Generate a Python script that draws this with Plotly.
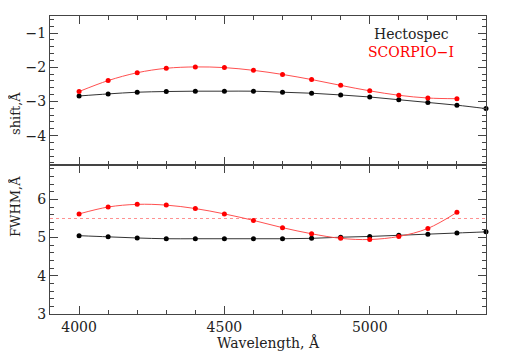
import plotly.graph_objects as go

wavelength = [4000, 4100, 4200, 4300, 4400, 4500, 4600, 4700, 4800, 4900, 5000, 5100, 5200, 5300, 5400]
wl_red = wavelength[:14]

shift_hecto = [-2.84, -2.78, -2.73, -2.71, -2.70, -2.70, -2.70, -2.73, -2.76, -2.81, -2.87, -2.95, -3.03, -3.11, -3.21]
shift_scorpio = [-2.71, -2.39, -2.16, -2.03, -1.99, -2.01, -2.09, -2.21, -2.36, -2.53, -2.69, -2.82, -2.90, -2.92]

fwhm_hecto = [5.05, 5.02, 4.99, 4.97, 4.97, 4.97, 4.97, 4.97, 4.98, 5.01, 5.03, 5.06, 5.09, 5.12, 5.15]
fwhm_scorpio = [5.62, 5.80, 5.87, 5.85, 5.76, 5.62, 5.45, 5.26, 5.10, 4.98, 4.95, 5.03, 5.24, 5.66]
fwhm_ref = 5.5

FONT = "DejaVu Serif"
BLACK_LINE = "#333333"
RED = "#ff0000"
RED_LINE = "#ff5050"
AX = "#444444"

fig = go.Figure()

# Top panel (shift)
fig.add_trace(go.Scatter(x=wavelength, y=shift_hecto, mode="lines+markers", xaxis="x2", yaxis="y2",
                         line=dict(color=BLACK_LINE, width=1, shape="spline"),
                         marker=dict(color="black", size=5), cliponaxis=False, showlegend=False))
fig.add_trace(go.Scatter(x=wl_red, y=shift_scorpio, mode="lines+markers", xaxis="x2", yaxis="y2",
                         line=dict(color=RED_LINE, width=1, shape="spline"),
                         marker=dict(color=RED, size=5), showlegend=False))

# Bottom panel (FWHM)
fig.add_trace(go.Scatter(x=[3900, 5400], y=[fwhm_ref, fwhm_ref], mode="lines", xaxis="x", yaxis="y",
                         line=dict(color="#ff9090", width=1, dash="dot"), showlegend=False))
fig.add_trace(go.Scatter(x=wavelength, y=fwhm_hecto, mode="lines+markers", xaxis="x", yaxis="y",
                         line=dict(color=BLACK_LINE, width=1, shape="spline"),
                         marker=dict(color="black", size=5), cliponaxis=False, showlegend=False))
fig.add_trace(go.Scatter(x=wl_red, y=fwhm_scorpio, mode="lines+markers", xaxis="x", yaxis="y",
                         line=dict(color=RED_LINE, width=1, shape="spline"),
                         marker=dict(color=RED, size=5), showlegend=False))

axis_common = dict(showline=True, linecolor=AX, linewidth=1.2, mirror="allticks",
                   ticks="inside", ticklen=8, tickwidth=1, tickcolor=AX,
                   showgrid=False, zeroline=False, automargin=False,
                   tickfont=dict(family=FONT, size=14, color="#222222"))
minor_x = dict(dtick=100, tick0=0, ticks="inside", ticklen=4, tickwidth=1, tickcolor=AX, showgrid=False)
minor_y = dict(dtick=0.2, tick0=0, ticks="inside", ticklen=4, tickwidth=1, tickcolor=AX, showgrid=False)

fig.update_layout(
    width=510, height=351,
    margin=dict(l=42, r=32, t=8, b=45),
    plot_bgcolor="white", paper_bgcolor="white",
    font=dict(family=FONT, size=14, color="#222222"),
    xaxis=dict(axis_common, range=[3900, 5400], domain=[0, 1], anchor="y",
               tickmode="array", tickvals=[4000, 4500, 5000], minor=minor_x),
    yaxis=dict(axis_common, range=[3, 6.9], domain=[0, 0.5], anchor="x",
               tickmode="array", tickvals=[3, 4, 5, 6], minor=minor_y),
    xaxis2=dict(axis_common, range=[3900, 5400], domain=[0, 1], anchor="y2", matches="x",
                tickmode="array", tickvals=[4000, 4500, 5000], showticklabels=False, minor=minor_x),
    yaxis2=dict(axis_common, range=[-4.86, -0.5], domain=[0.5, 1], anchor="x2",
                tickmode="array", tickvals=[-4, -3, -2, -1], ticktext=["−4", "−3", "−2", "−1"],
                minor=minor_y),
    annotations=[
        dict(x=5143, y=-1.04, xref="x2", yref="y2", text="Hectospec", showarrow=False,
             font=dict(family=FONT, size=14, color="#222222")),
        dict(x=5143, y=-1.54, xref="x2", yref="y2", text="SCORPIO−I", showarrow=False,
             font=dict(family=FONT, size=14, color=RED)),
        dict(x=0.5, y=-0.097, xref="paper", yref="paper", yanchor="middle", text="Wavelength, Å",
             showarrow=False, font=dict(family=FONT, size=14, color="#222222")),
        dict(x=0, xshift=-35, xanchor="center", y=0.75, xref="paper", yref="paper", text="shift,Å",
             textangle=-90, showarrow=False, font=dict(family=FONT, size=13, color="#222222")),
        dict(x=0, xshift=-35, xanchor="center", y=0.25, xref="paper", yref="paper", text="FWHM,Å",
             textangle=-90, showarrow=False, font=dict(family=FONT, size=13, color="#222222")),
    ],
)

fig.write_html("out.html")
